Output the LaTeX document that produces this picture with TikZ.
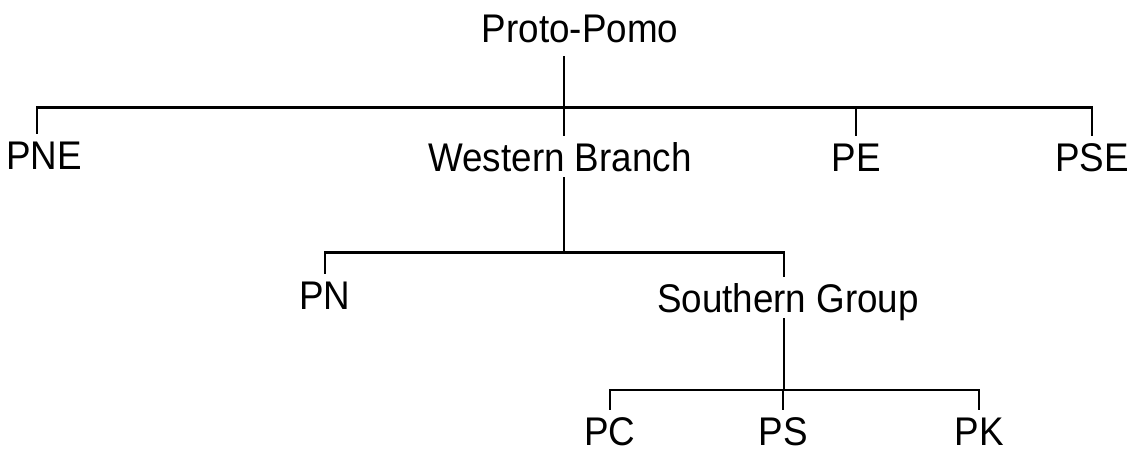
\documentclass[tikz,border=0pt]{standalone}
\usepackage{fontspec}
\setmainfont{Liberation Sans}[FakeStretch=0.92]
\begin{document}
\begin{tikzpicture}[x=1pt,y=1pt,
  lbl/.style={inner xsep=0pt, inner ysep=7pt, text height=29pt, text depth=0pt,
              anchor=base, font=\fontsize{40}{42}\selectfont},
  conn/.style={line width=2.6pt, line join=miter, line cap=rect}]
\useasboundingbox (0,0) rectangle (1127,-452);
% nodes
\node[lbl] (pp)  at (580,-43)  {Proto-Pomo};
\node[lbl] (pne) at (44,-169)  {PNE};
\node[lbl] (wb)  at (560,-171) {Western Branch};
\node[lbl] (pe)  at (856,-171) {PE};
\node[lbl] (pse) at (1092,-171) {PSE};
\node[lbl] (pn)  at (325,-309) {PN};
\node[lbl] (sg)  at (788,-312) {Southern Group};
\node[lbl] (pc)  at (610,-445) {PC};
\node[lbl] (ps)  at (783,-445) {PS};
\node[lbl] (pk)  at (979,-445) {PK};
% junctions
\coordinate (j1) at (564,-107.5);
\coordinate (j2) at (564,-252.5);
\coordinate (j3) at (783,-390);
% level 1
\draw[conn] ([yshift=-7pt]pp.south -| j1) -- (j1 |- wb.north);
\draw[conn] ([xshift=-7pt]pne.north) |- (pse.north |- j1) -- (pse.north);
\draw[conn] (pe.north) -- (pe.north |- j1);
% level 2
\draw[conn] (j1 |- wb.south) -- (j2);
\draw[conn] (pn.north) |- ([xshift=-4pt]sg.north |- j2) -- ([xshift=-4pt]sg.north);
% level 3
\draw[conn] ([xshift=-4pt]sg.south) -- ([xshift=-4pt]sg.south |- j3);
\draw[conn] (pc.north) |- (pk.north |- j3) -- (pk.north);
\draw[conn] (ps.north) -- (ps.north |- j3);
\end{tikzpicture}
\end{document}
